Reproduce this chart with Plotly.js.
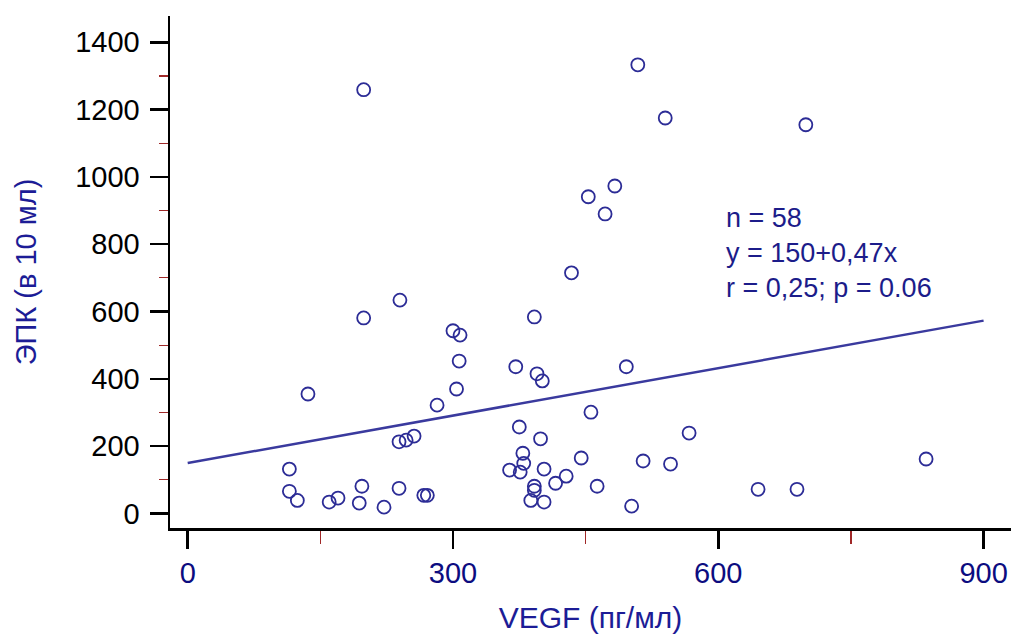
<!DOCTYPE html>
<html>
<head>
<meta charset="utf-8">
<script src="https://cdn.plot.ly/plotly-3.0.1.min.js"></script>
<style>html,body{margin:0;padding:0;background:#fff;}#chart{width:1011px;height:635px;}</style>
</head>
<body>
<div id="chart"></div>
<script>
// VEGF (pg/ml) values
var vegf = [199, 509, 540, 699, 453, 483, 472, 434, 240, 199,
            300, 308, 392, 307, 371, 395, 401, 304, 496, 136,
            282, 456, 567, 375, 399, 239, 247, 256, 379, 445,
            515, 546, 835, 115, 364, 376, 403, 428, 416, 392,
            392, 463, 115, 124, 197, 239, 160, 170, 194, 222,
            267, 271, 388, 403, 502, 645, 689, 380];
// EPC (per 10 ml) values
var epc = [1259, 1333, 1175, 1155, 941, 973, 890, 715, 634, 581,
           543, 530, 584, 453, 436, 415, 394, 370, 436, 355,
           322, 301, 239, 257, 222, 213, 218, 230, 179, 165,
           156, 147, 162, 132, 129, 123, 132, 111, 90, 81,
           69, 81, 66, 39, 81, 75, 34, 46, 31, 19,
           54, 54, 39, 34, 22, 72, 72, 149];
// regression y = 150 + 0.47x
var regX = [0, 900];
var regIntercept = 150, regSlope = 0.47;
var regY = regX.map(function(v){ return regIntercept + regSlope * v; });
var statLines = ["n = 58", "y = 150+0,47x", "r = 0,25; p = 0.06"];
var statY = [878, 774, 670];
var statX = 607;

var font = 'Liberation Sans, Arial, sans-serif';

var traces = [
  {x: regX, y: regY, mode: 'lines', type: 'scatter',
   line: {color: '#3a3a9e', width: 2.5}, hoverinfo: 'skip'},
  {x: vegf, y: epc, mode: 'markers', type: 'scatter',
   marker: {symbol: 'circle-open', size: 13, color: '#2c2c96', line: {width: 1.8, color: '#2c2c96'}}}
];

var annotations = statLines.map(function(t, i){
  return {x: statX, y: statY[i], xref: 'x', yref: 'y', text: t, showarrow: false,
          xanchor: 'left', yanchor: 'middle', font: {family: font, size: 27, color: '#1c1c8a'}};
});

var layout = {
  width: 1011, height: 635,
  margin: {l: 170, r: 0, t: 16, b: 107},
  paper_bgcolor: '#fff', plot_bgcolor: '#fff',
  showlegend: false,
  font: {family: font},
  xaxis: {
    range: [-20, 931], showgrid: false, zeroline: false,
    showline: true, linecolor: '#000', linewidth: 2.5,
    tickmode: 'linear', tick0: 0, dtick: 300,
    ticks: 'outside', ticklen: 18, tickwidth: 2.5, tickcolor: '#000',
    tickfont: {family: font, size: 29, color: '#0c0c80'},
    minor: {tickmode: 'linear', tick0: 0, dtick: 150, ticks: 'outside', ticklen: 13, tickwidth: 1.2, tickcolor: '#a02828', showgrid: false},
    title: {text: 'VEGF (пг/мл)', font: {family: font, size: 30, color: '#1c1c96'}, standoff: 19}
  },
  yaxis: {
    range: [-43, 1478], showgrid: false, zeroline: false,
    showline: true, linecolor: '#000', linewidth: 2.5,
    tickmode: 'linear', tick0: 0, dtick: 200,
    ticks: 'outside', ticklen: 18, tickwidth: 2.5, tickcolor: '#000',
    ticklabelstandoff: 4,
    tickfont: {family: font, size: 29, color: '#000'},
    minor: {tickmode: 'linear', tick0: 0, dtick: 100, ticks: 'outside', ticklen: 9, tickwidth: 1.2, tickcolor: '#a02828', showgrid: false},
    title: {text: 'ЭПК (в 10 мл)', font: {family: font, size: 29, color: '#1c1c96'}, standoff: 30}
  },
  annotations: annotations
};

Plotly.newPlot('chart', traces, layout, {displayModeBar: false, staticPlot: true});
</script>
</body>
</html>
